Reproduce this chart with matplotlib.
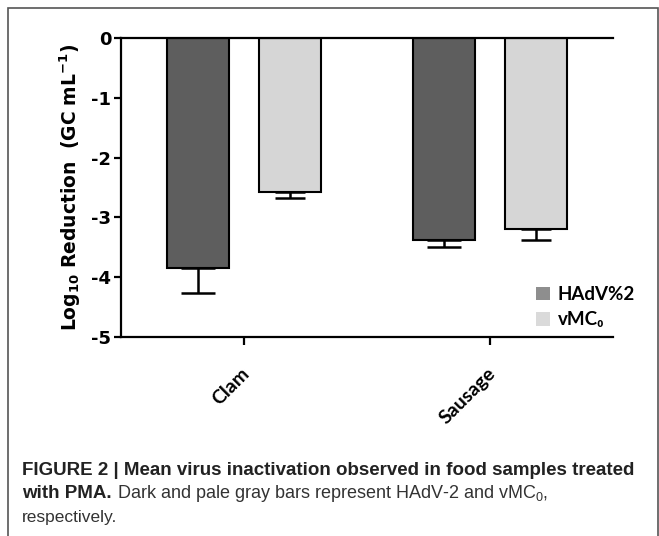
# mean virus inactivation, PMA treated food samples
import matplotlib
matplotlib.use("Agg")
import matplotlib.pyplot as plt
import matplotlib.transforms as mtrans
from matplotlib.patches import Patch, Rectangle
import numpy as np

# --------------------------------------------------------------
# data
categories = ["Clam", "Sausage"]
series_names = ["HAdV%2", "vMC\u2080"]
hadv_mean = [-3.85, -3.37]
hadv_err = [0.42, 0.12]
vmc_mean = [-2.58, -3.19]
vmc_err = [0.10, 0.18]
yticks = [0, -1, -2, -3, -4, -5]

plt.rcParams["mathtext.fontset"] = "custom"
plt.rcParams["mathtext.rm"] = "Liberation Sans"
plt.rcParams["mathtext.bf"] = "DejaVu Sans:bold"
plt.rcParams["font.family"] = ["Liberation Sans", "DejaVu Sans"]

narrow = ["Lato", "DejaVu Sans"]
dark = "#5e5e5e"
pale = "#d6d6d6"

fig = plt.figure(figsize=(6.59, 5.36), dpi=100)
ax = fig.add_axes([121/659, 1-337/536, 492/659, 299/536])

x = np.arange(len(categories))
w = 0.252
off = 0.187

# bars
ax.bar(x - off, hadv_mean, width=w, color=dark, edgecolor="black", linewidth=1.5, zorder=2)
ax.bar(x + off, vmc_mean, width=w, color=pale, edgecolor="black", linewidth=1.5, zorder=2)

# one sided error bars (downward)
ax.errorbar(x - off, hadv_mean, yerr=[hadv_err, [0, 0]], fmt="none", ecolor="black",
            elinewidth=1.8, capsize=12, capthick=1.8, zorder=3)
ax.errorbar(x + off, vmc_mean, yerr=[vmc_err, [0, 0]], fmt="none", ecolor="black",
            elinewidth=1.8, capsize=11, capthick=1.8, zorder=3)

# axes
ax.set_xlim(-0.5, 1.5)
ax.set_ylim(-5, 0)
ax.axhline(0, color="black", linewidth=1.6, zorder=4, clip_on=False)
for s in ["top", "right"]:
  ax.spines[s].set_visible(False)
for s in ["left", "bottom"]:
  ax.spines[s].set_linewidth(1.6)

ax.set_yticks(yticks)
ax.set_yticklabels([str(t) for t in yticks], fontsize=13, fontweight="bold", family="DejaVu Sans")
ax.tick_params(axis="y", direction="out", length=5, width=1.6, pad=2)
ax.set_xticks(x)
ax.set_xticklabels(categories, rotation=45, ha="right", rotation_mode="anchor",
                   fontsize=14, fontweight="bold", family=narrow)
ax.tick_params(axis="x", direction="out", length=6, width=1.6, pad=14)
shift = mtrans.ScaledTranslation(-3/100, 0, fig.dpi_scale_trans)
for lbl in ax.get_xticklabels():
  lbl.set_transform(lbl.get_transform() + shift)

ax.set_ylabel(r"$\mathbf{Log_{10}\ Reduction\ \ (GC\ mL^{-1})}$", fontsize=13.5, labelpad=6)

# legend
handles = [Patch(facecolor="#8e8e8e", edgecolor="none"),
           Patch(facecolor="#dadada", edgecolor="none")]
ax.legend(handles, series_names, loc="lower left", bbox_to_anchor=(0.81, -0.028),
          frameon=False, handlelength=0.75, handleheight=0.75, handletextpad=0.4,
          labelspacing=0.45, prop={"family": narrow, "weight": "bold", "size": 13.5})

# outer frame
fig.add_artist(Rectangle((8/659, -0.1), 650/659, 1.1 - 8/536, transform=fig.transFigure,
                         fill=False, edgecolor="#555555", linewidth=1.2))

# caption
fig.text(22/659, 1-475/536, "FIGURE 2 | Mean virus inactivation observed in food samples treated",
         fontsize=13.5, fontweight="bold", va="baseline", color="#222222")
t2 = fig.text(22/659, 1-498/536, "with PMA.", fontsize=13.5, fontweight="bold", va="baseline",
              color="#222222")
fig.canvas.draw()
bb = t2.get_window_extent()
fig.text(bb.x1/fig.bbox.width, 1-498/536, " Dark and pale gray bars represent HAdV-2 and vMC$_0$,",
         fontsize=13, color="#333333", va="baseline")
fig.text(22/659, 1-522/536, "respectively.", fontsize=12.5, va="baseline", color="#333333")

fig.savefig("out.png", dpi=100)
